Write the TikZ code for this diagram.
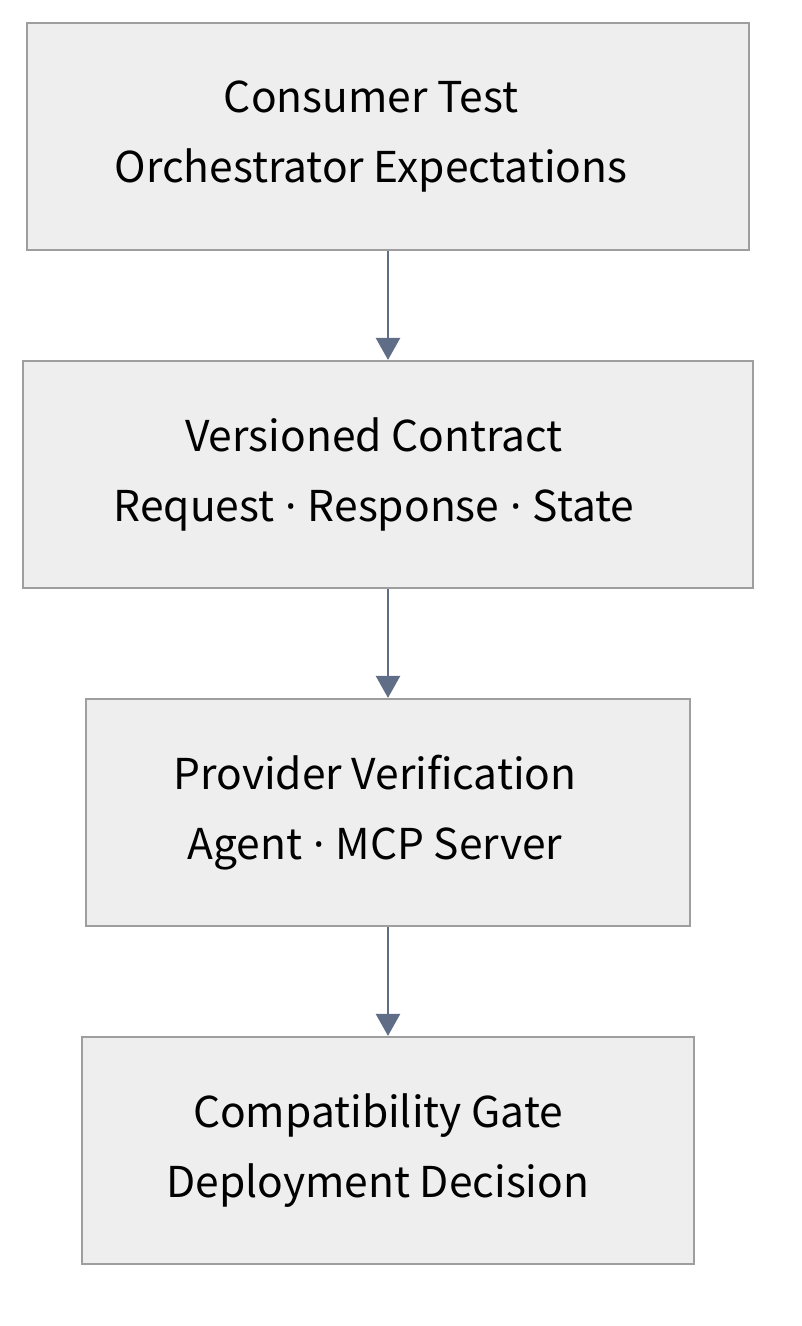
\documentclass[tikz,border=0pt]{standalone}
\usepackage{fontspec}
\setmainfont{Noto Sans CJK KR}
\newfontfamily\dotfont{Noto Sans}
\newcommand{\mdot}{{\dotfont\ ·\ }}
\usetikzlibrary{arrows.meta}
\definecolor{boxfill}{HTML}{EEEEEE}
\definecolor{boxline}{HTML}{9E9E9E}
\definecolor{arrowc}{HTML}{5F6E86}
\begin{document}
\begin{tikzpicture}[x=1pt,y=1pt,
  box/.style={draw=boxline, fill=boxfill, line width=2.2pt, inner sep=0pt, minimum height=227pt},
  lbl/.style={align=center, font=\fontsize{42.5}{70}\selectfont, inner sep=0pt},
  conn/.style={draw=arrowc, line width=2.6pt, -{Triangle[length=22pt,width=24pt]}, shorten >=0pt}]
\useasboundingbox (0,0) rectangle (801,-1326);
\node[box, minimum width=722pt] (b1) at (388,-136.5) {};
\node[box, minimum width=730pt] (b2) at (388,-474.5) {};
\node[box, minimum width=604pt] (b3) at (388,-812.5) {};
\node[box, minimum width=612pt] (b4) at (388,-1150.5) {};
\node[lbl] (t1) at (371,-136.5) {Consumer Test\\Orchestrator Expectations};
\node[lbl] (t2) at (374,-474.5) {Versioned Contract\\Request\mdot Response\mdot State};
\node[lbl] (t3) at (375,-812.5) {Provider Verification\\Agent\mdot MCP Server};
\node[lbl] (t4) at (378,-1150.5) {Compatibility Gate\\Deployment Decision};
\draw[conn] (b1.south) -- (b2.north);
\draw[conn] (b2.south) -- (b3.north);
\draw[conn] (b3.south) -- (b4.north);
\end{tikzpicture}
\end{document}
